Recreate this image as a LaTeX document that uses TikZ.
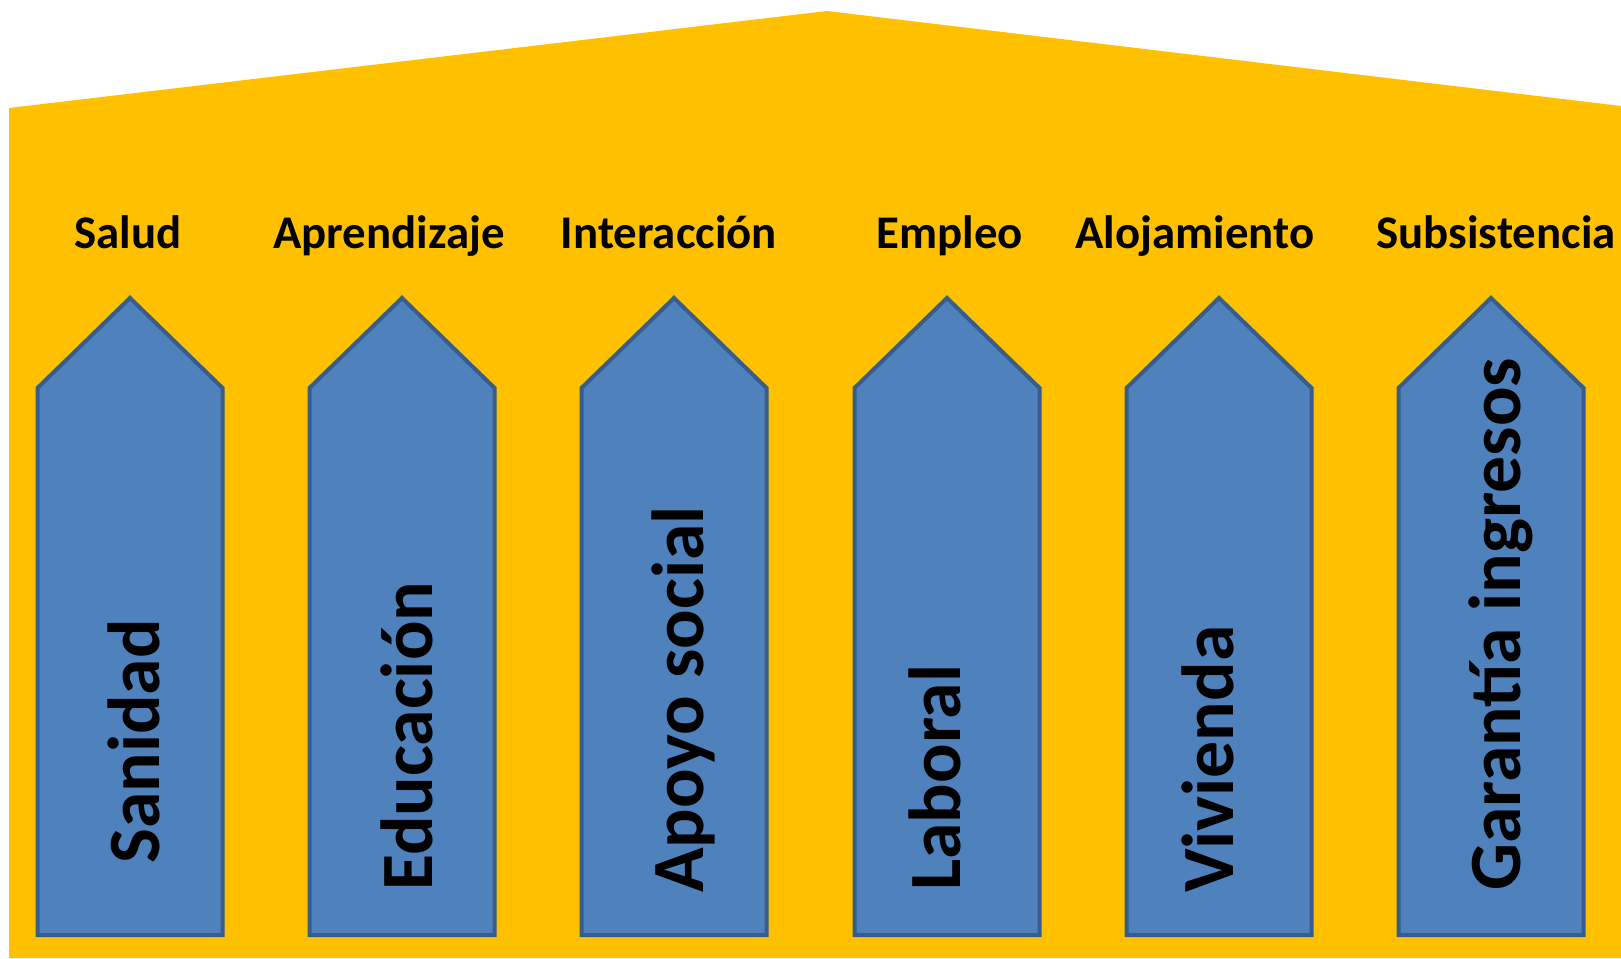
\documentclass[tikz,border=0pt]{standalone}
\usepackage{fontspec}
\setmainfont{Carlito}
\definecolor{roof}{HTML}{FFC000}
\definecolor{pfill}{HTML}{4F81BD}
\definecolor{pline}{HTML}{385D8A}
\tikzset{
  pillar/.style={fill=pfill, draw=pline, line width=4bp, line join=miter},
  toplabel/.style={anchor=base, inner sep=0pt, font=\fontsize{47}{50}\selectfont\bfseries},
  pillartext/.style={rotate=90, anchor=base west, inner sep=0pt, font=\fontsize{74}{78}\selectfont\bfseries}
}
\begin{document}
\begin{tikzpicture}[x=1bp,y=-1bp]
\useasboundingbox (0,0) rectangle (1621,958);
\fill[roof] (9,958) -- (9,108) -- (827,11) -- (1621,106) -- (1621,958) -- cycle;
% pillars
\foreach \c in {130,402,674,947,1219,1491}{
  \draw[pillar] (\c-92.5,935) -- (\c-92.5,388) -- (\c,298) -- (\c+92.5,388) -- (\c+92.5,935) -- cycle;
}
% top labels
\node[toplabel] (l1) at (128,248) {Salud};
\node[toplabel] (l2) at (389,248) {Aprendizaje};
\node[toplabel] (l3) at (669,248) {Interacción};
\node[toplabel] (l4) at (950,248) {Empleo};
\node[toplabel] (l5) at (1195,248) {Alojamiento};
\node[toplabel] (l6) at (1496,248) {Subsistencia};
% pillar texts
\node[pillartext] (p1) at (159,864) {Sanidad};
\node[pillartext] (p2) at (432,891) {Educación};
\node[pillartext] (p3) at (703,893) {Apoyo social};
\node[pillartext] (p4) at (960,891) {Laboral};
\node[pillartext] (p5) at (1233,893) {Vivienda};
\node[pillartext] (p6) at (1520,891) {Garantía ingresos};
\end{tikzpicture}
\end{document}
